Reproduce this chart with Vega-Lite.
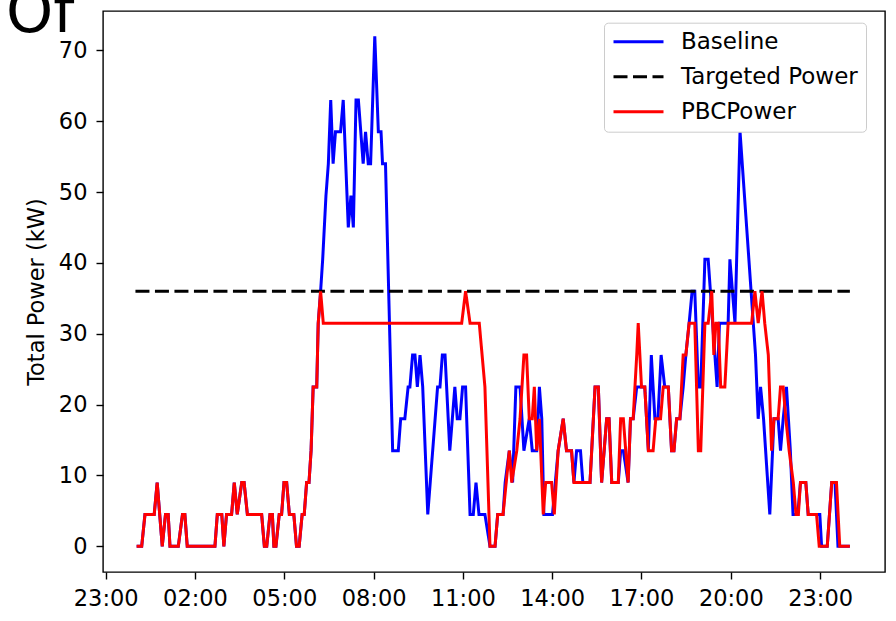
{
  "$schema": "https://vega.github.io/schema/vega-lite/v6.json",
  "width": 782,
  "height": 561,
  "autosize": "none",
  "padding": {"left": 103, "top": 11, "right": 11, "bottom": 49},
  "background": "white",
  "title": {"text": "Of", "anchor": "start", "frame": "group", "orient": "top", "fontSize": 60, "font": "DejaVu Sans", "fontWeight": "normal", "color": "#000", "baseline": "alphabetic", "offset": -81, "dx": -97},
  "config": {
    "view": {"stroke": "#000", "strokeWidth": 1.4},
    "axis": {"grid": false, "domain": false, "tickColor": "#000", "tickWidth": 1.4, "tickSize": 7, "labelColor": "#000", "labelFont": "DejaVu Sans", "labelFontSize": 22.5, "titleFont": "DejaVu Sans", "titleFontWeight": "normal", "titleColor": "#000", "titleFontSize": 22.5},
    "legend": {"orient": "none", "legendX": 501, "legendY": 11.7, "symbolType": "stroke", "symbolSize": 2500, "symbolStrokeWidth": 3, "clipHeight": 22, "rowPadding": 12, "labelFontSize": 23, "labelFont": "DejaVu Sans", "labelColor": "#000", "labelOffset": 16, "padding": 8, "fillColor": "white", "strokeColor": "#cccccc", "cornerRadius": 4, "labelLimit": 400}
  },
  "data": {"values": [
    {"s":"Baseline","h":0.04,"v":0},{"s":"Baseline","h":0.21,"v":0},{"s":"Baseline","h":0.32,"v":4.5},{"s":"Baseline","h":0.63,"v":4.5},{"s":"Baseline","h":0.73,"v":9},{"s":"Baseline","h":0.90,"v":0},{"s":"Baseline","h":1.01,"v":4.5},{"s":"Baseline","h":1.10,"v":4.5},{"s":"Baseline","h":1.16,"v":0},{"s":"Baseline","h":1.44,"v":0},{"s":"Baseline","h":1.58,"v":4.5},{"s":"Baseline","h":1.66,"v":4.5},{"s":"Baseline","h":1.74,"v":0},{"s":"Baseline","h":2.67,"v":0},{"s":"Baseline","h":2.75,"v":4.5},{"s":"Baseline","h":2.90,"v":4.5},{"s":"Baseline","h":2.97,"v":0},{"s":"Baseline","h":3.06,"v":4.5},{"s":"Baseline","h":3.23,"v":4.5},{"s":"Baseline","h":3.32,"v":9},{"s":"Baseline","h":3.42,"v":4.5},{"s":"Baseline","h":3.57,"v":9},{"s":"Baseline","h":3.65,"v":9},{"s":"Baseline","h":3.76,"v":4.5},{"s":"Baseline","h":4.24,"v":4.5},{"s":"Baseline","h":4.33,"v":0},{"s":"Baseline","h":4.41,"v":0},{"s":"Baseline","h":4.52,"v":4.5},{"s":"Baseline","h":4.60,"v":4.5},{"s":"Baseline","h":4.65,"v":0},{"s":"Baseline","h":4.72,"v":0},{"s":"Baseline","h":4.83,"v":4.5},{"s":"Baseline","h":4.91,"v":4.5},{"s":"Baseline","h":4.99,"v":9},{"s":"Baseline","h":5.08,"v":9},{"s":"Baseline","h":5.17,"v":4.5},{"s":"Baseline","h":5.32,"v":4.5},{"s":"Baseline","h":5.41,"v":0},{"s":"Baseline","h":5.50,"v":0},{"s":"Baseline","h":5.60,"v":4.5},{"s":"Baseline","h":5.67,"v":4.5},{"s":"Baseline","h":5.75,"v":9},{"s":"Baseline","h":5.83,"v":9},{"s":"Baseline","h":5.90,"v":13.5},{"s":"Baseline","h":5.97,"v":22.5},{"s":"Baseline","h":6.09,"v":22.5},{"s":"Baseline","h":6.14,"v":31.5},{"s":"Baseline","h":6.22,"v":36},
    {"s":"Baseline","h":6.29,"v":40.5},{"s":"Baseline","h":6.40,"v":49.5},{"s":"Baseline","h":6.48,"v":54},{"s":"Baseline","h":6.56,"v":63},{"s":"Baseline","h":6.64,"v":54},{"s":"Baseline","h":6.72,"v":58.5},{"s":"Baseline","h":6.89,"v":58.5},{"s":"Baseline","h":6.98,"v":63},{"s":"Baseline","h":7.15,"v":45},{"s":"Baseline","h":7.24,"v":49.5},{"s":"Baseline","h":7.32,"v":45},{"s":"Baseline","h":7.41,"v":63},{"s":"Baseline","h":7.49,"v":63},{"s":"Baseline","h":7.65,"v":54},{"s":"Baseline","h":7.73,"v":58.5},{"s":"Baseline","h":7.82,"v":54},{"s":"Baseline","h":7.90,"v":54},{"s":"Baseline","h":8.04,"v":72},{"s":"Baseline","h":8.16,"v":58.5},{"s":"Baseline","h":8.25,"v":58.5},{"s":"Baseline","h":8.30,"v":54},{"s":"Baseline","h":8.40,"v":54},{"s":"Baseline","h":8.64,"v":13.5},{"s":"Baseline","h":8.83,"v":13.5},{"s":"Baseline","h":8.91,"v":18},{"s":"Baseline","h":9.05,"v":18},{"s":"Baseline","h":9.16,"v":22.5},{"s":"Baseline","h":9.22,"v":22.5},{"s":"Baseline","h":9.31,"v":27},{"s":"Baseline","h":9.39,"v":27},{"s":"Baseline","h":9.47,"v":22.5},{"s":"Baseline","h":9.56,"v":27},{"s":"Baseline","h":9.65,"v":22.5},{"s":"Baseline","h":9.82,"v":4.5},{"s":"Baseline","h":10.15,"v":22.5},{"s":"Baseline","h":10.23,"v":22.5},{"s":"Baseline","h":10.31,"v":27},{"s":"Baseline","h":10.40,"v":27},{"s":"Baseline","h":10.56,"v":13.5},{"s":"Baseline","h":10.73,"v":22.5},{"s":"Baseline","h":10.81,"v":18},{"s":"Baseline","h":10.90,"v":18},{"s":"Baseline","h":10.99,"v":22.5},{"s":"Baseline","h":11.09,"v":22.5},{"s":"Baseline","h":11.24,"v":4.5},{"s":"Baseline","h":11.35,"v":4.5},{"s":"Baseline","h":11.44,"v":9},{"s":"Baseline","h":11.54,"v":4.5},{"s":"Baseline","h":11.74,"v":4.5},{"s":"Baseline","h":11.91,"v":0},{"s":"Baseline","h":12.08,"v":0},{"s":"Baseline","h":12.17,"v":4.5},{"s":"Baseline","h":12.35,"v":4.5},{"s":"Baseline","h":12.42,"v":9},{"s":"Baseline","h":12.56,"v":13.5},{"s":"Baseline","h":12.67,"v":9},{"s":"Baseline","h":12.78,"v":22.5},{"s":"Baseline","h":12.92,"v":22.5},{"s":"Baseline","h":13.05,"v":13.5},{"s":"Baseline","h":13.23,"v":18},{"s":"Baseline","h":13.33,"v":13.5},{"s":"Baseline","h":13.48,"v":13.5},{"s":"Baseline","h":13.57,"v":22.5},{"s":"Baseline","h":13.65,"v":18},{"s":"Baseline","h":13.72,"v":4.5},{"s":"Baseline","h":14.01,"v":4.5},{"s":"Baseline","h":14.20,"v":13.5},{"s":"Baseline","h":14.37,"v":18},{"s":"Baseline","h":14.48,"v":13.5},{"s":"Baseline","h":14.65,"v":13.5},{"s":"Baseline","h":14.73,"v":9},{"s":"Baseline","h":14.82,"v":13.5},{"s":"Baseline","h":14.95,"v":13.5},{"s":"Baseline","h":15.03,"v":9},{"s":"Baseline","h":15.27,"v":9},{"s":"Baseline","h":15.44,"v":22.5},{"s":"Baseline","h":15.55,"v":22.5},{"s":"Baseline","h":15.66,"v":9},{"s":"Baseline","h":15.83,"v":18},{"s":"Baseline","h":15.91,"v":18},{"s":"Baseline","h":16.00,"v":9},{"s":"Baseline","h":16.22,"v":9},{"s":"Baseline","h":16.30,"v":13.5},{"s":"Baseline","h":16.39,"v":13.5},{"s":"Baseline","h":16.55,"v":9},{"s":"Baseline","h":16.63,"v":18},{"s":"Baseline","h":16.72,"v":18},{"s":"Baseline","h":16.84,"v":22.5},{"s":"Baseline","h":17.11,"v":22.5},{"s":"Baseline","h":17.23,"v":13.5},{"s":"Baseline","h":17.33,"v":27},{"s":"Baseline","h":17.45,"v":18},{"s":"Baseline","h":17.55,"v":18},{"s":"Baseline","h":17.66,"v":27},{"s":"Baseline","h":17.78,"v":22.5},{"s":"Baseline","h":17.90,"v":22.5},{"s":"Baseline","h":18.01,"v":13.5},{"s":"Baseline","h":18.09,"v":13.5},{"s":"Baseline","h":18.18,"v":18},{"s":"Baseline","h":18.29,"v":18},{"s":"Baseline","h":18.40,"v":22.5},{"s":"Baseline","h":18.49,"v":27},{"s":"Baseline","h":18.60,"v":31.5},{"s":"Baseline","h":18.70,"v":36},{"s":"Baseline","h":18.79,"v":36},{"s":"Baseline","h":18.91,"v":22.5},{"s":"Baseline","h":18.99,"v":22.5},{"s":"Baseline","h":19.13,"v":40.5},{"s":"Baseline","h":19.24,"v":40.5},{"s":"Baseline","h":19.54,"v":22.5},{"s":"Baseline","h":19.62,"v":31.5},{"s":"Baseline","h":19.91,"v":31.5},{"s":"Baseline","h":19.97,"v":40.5},{"s":"Baseline","h":20.14,"v":31.5},{"s":"Baseline","h":20.31,"v":58.5},{"s":"Baseline","h":20.83,"v":27},{"s":"Baseline","h":20.92,"v":18},{"s":"Baseline","h":21.00,"v":22.5},{"s":"Baseline","h":21.10,"v":18},{"s":"Baseline","h":21.31,"v":4.5},{"s":"Baseline","h":21.45,"v":18},{"s":"Baseline","h":21.59,"v":18},{"s":"Baseline","h":21.67,"v":13.5},{"s":"Baseline","h":21.76,"v":18},{"s":"Baseline","h":21.87,"v":22.5},{"s":"Baseline","h":22.00,"v":13.5},{"s":"Baseline","h":22.09,"v":4.5},{"s":"Baseline","h":22.25,"v":4.5},{"s":"Baseline","h":22.34,"v":9},{"s":"Baseline","h":22.52,"v":9},{"s":"Baseline","h":22.60,"v":4.5},{"s":"Baseline","h":22.99,"v":4.5},{"s":"Baseline","h":23.05,"v":0},{"s":"Baseline","h":23.24,"v":0},{"s":"Baseline","h":23.39,"v":9},{"s":"Baseline","h":23.50,"v":9},{"s":"Baseline","h":23.60,"v":0},{"s":"Baseline","h":24.0,"v":0},
    {"s":"Targeted Power","h":0,"v":36},{"s":"Targeted Power","h":24,"v":36},
    {"s":"PBCPower","h":0.04,"v":0},{"s":"PBCPower","h":0.21,"v":0},{"s":"PBCPower","h":0.32,"v":4.5},{"s":"PBCPower","h":0.63,"v":4.5},{"s":"PBCPower","h":0.73,"v":9},{"s":"PBCPower","h":0.90,"v":0},{"s":"PBCPower","h":1.01,"v":4.5},{"s":"PBCPower","h":1.10,"v":4.5},{"s":"PBCPower","h":1.16,"v":0},{"s":"PBCPower","h":1.44,"v":0},{"s":"PBCPower","h":1.58,"v":4.5},{"s":"PBCPower","h":1.66,"v":4.5},{"s":"PBCPower","h":1.74,"v":0},{"s":"PBCPower","h":2.67,"v":0},{"s":"PBCPower","h":2.75,"v":4.5},{"s":"PBCPower","h":2.90,"v":4.5},{"s":"PBCPower","h":2.97,"v":0},{"s":"PBCPower","h":3.06,"v":4.5},{"s":"PBCPower","h":3.23,"v":4.5},{"s":"PBCPower","h":3.32,"v":9},{"s":"PBCPower","h":3.42,"v":4.5},{"s":"PBCPower","h":3.57,"v":9},{"s":"PBCPower","h":3.65,"v":9},{"s":"PBCPower","h":3.76,"v":4.5},{"s":"PBCPower","h":4.24,"v":4.5},{"s":"PBCPower","h":4.33,"v":0},{"s":"PBCPower","h":4.41,"v":0},{"s":"PBCPower","h":4.52,"v":4.5},{"s":"PBCPower","h":4.60,"v":4.5},{"s":"PBCPower","h":4.65,"v":0},{"s":"PBCPower","h":4.72,"v":0},{"s":"PBCPower","h":4.83,"v":4.5},{"s":"PBCPower","h":4.91,"v":4.5},{"s":"PBCPower","h":4.99,"v":9},{"s":"PBCPower","h":5.08,"v":9},{"s":"PBCPower","h":5.17,"v":4.5},{"s":"PBCPower","h":5.32,"v":4.5},{"s":"PBCPower","h":5.41,"v":0},{"s":"PBCPower","h":5.50,"v":0},{"s":"PBCPower","h":5.60,"v":4.5},{"s":"PBCPower","h":5.67,"v":4.5},{"s":"PBCPower","h":5.75,"v":9},{"s":"PBCPower","h":5.83,"v":9},{"s":"PBCPower","h":5.90,"v":13.5},{"s":"PBCPower","h":5.97,"v":22.5},{"s":"PBCPower","h":6.09,"v":22.5},{"s":"PBCPower","h":6.14,"v":31.5},{"s":"PBCPower","h":6.22,"v":36},
    {"s":"PBCPower","h":6.31,"v":31.5},{"s":"PBCPower","h":10.96,"v":31.5},{"s":"PBCPower","h":11.09,"v":36},{"s":"PBCPower","h":11.24,"v":31.5},{"s":"PBCPower","h":11.55,"v":31.5},{"s":"PBCPower","h":11.74,"v":22.5},{"s":"PBCPower","h":11.91,"v":0},{"s":"PBCPower","h":12.08,"v":0},{"s":"PBCPower","h":12.17,"v":4.5},{"s":"PBCPower","h":12.35,"v":4.5},{"s":"PBCPower","h":12.56,"v":13.5},{"s":"PBCPower","h":12.64,"v":9},{"s":"PBCPower","h":12.81,"v":13.5},{"s":"PBCPower","h":12.92,"v":18},{"s":"PBCPower","h":13.05,"v":27},{"s":"PBCPower","h":13.14,"v":27},{"s":"PBCPower","h":13.23,"v":18},{"s":"PBCPower","h":13.33,"v":18},{"s":"PBCPower","h":13.40,"v":22.5},{"s":"PBCPower","h":13.48,"v":13.5},{"s":"PBCPower","h":13.57,"v":18},{"s":"PBCPower","h":13.70,"v":4.5},{"s":"PBCPower","h":13.78,"v":9},{"s":"PBCPower","h":13.98,"v":9},{"s":"PBCPower","h":14.07,"v":4.5},{"s":"PBCPower","h":14.20,"v":13.5},{"s":"PBCPower","h":14.37,"v":18},{"s":"PBCPower","h":14.48,"v":13.5},{"s":"PBCPower","h":14.65,"v":13.5},{"s":"PBCPower","h":14.73,"v":9},{"s":"PBCPower","h":15.27,"v":9},{"s":"PBCPower","h":15.44,"v":22.5},{"s":"PBCPower","h":15.55,"v":22.5},{"s":"PBCPower","h":15.66,"v":9},{"s":"PBCPower","h":15.83,"v":18},{"s":"PBCPower","h":15.91,"v":18},{"s":"PBCPower","h":16.00,"v":9},{"s":"PBCPower","h":16.22,"v":9},{"s":"PBCPower","h":16.30,"v":18},{"s":"PBCPower","h":16.39,"v":18},{"s":"PBCPower","h":16.55,"v":9},{"s":"PBCPower","h":16.63,"v":18},{"s":"PBCPower","h":16.72,"v":18},{"s":"PBCPower","h":16.84,"v":27},{"s":"PBCPower","h":16.89,"v":31.5},{"s":"PBCPower","h":17.00,"v":22.5},{"s":"PBCPower","h":17.11,"v":22.5},{"s":"PBCPower","h":17.23,"v":13.5},{"s":"PBCPower","h":17.39,"v":13.5},{"s":"PBCPower","h":17.48,"v":18},{"s":"PBCPower","h":17.64,"v":18},{"s":"PBCPower","h":17.73,"v":22.5},{"s":"PBCPower","h":17.90,"v":22.5},{"s":"PBCPower","h":18.01,"v":13.5},{"s":"PBCPower","h":18.09,"v":13.5},{"s":"PBCPower","h":18.18,"v":18},{"s":"PBCPower","h":18.29,"v":18},{"s":"PBCPower","h":18.40,"v":27},{"s":"PBCPower","h":18.49,"v":27},{"s":"PBCPower","h":18.60,"v":31.5},{"s":"PBCPower","h":18.79,"v":31.5},{"s":"PBCPower","h":18.91,"v":13.5},{"s":"PBCPower","h":18.99,"v":13.5},{"s":"PBCPower","h":19.13,"v":31.5},{"s":"PBCPower","h":19.24,"v":31.5},{"s":"PBCPower","h":19.36,"v":36},{"s":"PBCPower","h":19.43,"v":27},{"s":"PBCPower","h":19.50,"v":31.5},{"s":"PBCPower","h":19.58,"v":31.5},{"s":"PBCPower","h":19.66,"v":22.5},{"s":"PBCPower","h":19.80,"v":22.5},{"s":"PBCPower","h":19.91,"v":31.5},{"s":"PBCPower","h":20.70,"v":31.5},{"s":"PBCPower","h":20.81,"v":36},{"s":"PBCPower","h":20.92,"v":31.5},{"s":"PBCPower","h":21.05,"v":36},{"s":"PBCPower","h":21.14,"v":31.5},{"s":"PBCPower","h":21.26,"v":27},{"s":"PBCPower","h":21.37,"v":13.5},{"s":"PBCPower","h":21.45,"v":18},{"s":"PBCPower","h":21.59,"v":18},{"s":"PBCPower","h":21.67,"v":22.5},{"s":"PBCPower","h":21.76,"v":22.5},{"s":"PBCPower","h":21.85,"v":18},{"s":"PBCPower","h":21.96,"v":13.5},{"s":"PBCPower","h":22.10,"v":9},{"s":"PBCPower","h":22.19,"v":4.5},{"s":"PBCPower","h":22.27,"v":4.5},{"s":"PBCPower","h":22.34,"v":9},{"s":"PBCPower","h":22.52,"v":9},{"s":"PBCPower","h":22.60,"v":4.5},{"s":"PBCPower","h":22.88,"v":4.5},{"s":"PBCPower","h":22.97,"v":0},{"s":"PBCPower","h":23.24,"v":0},{"s":"PBCPower","h":23.39,"v":9},{"s":"PBCPower","h":23.55,"v":9},{"s":"PBCPower","h":23.66,"v":0},{"s":"PBCPower","h":24.0,"v":0}
  ]},
  "encoding": {
    "x": {"field": "h", "type": "quantitative", "scale": {"domain": [-1.09, 25.18], "nice": false, "zero": false}, "axis": {"title": null, "values": [-1, 2, 5, 8, 11, 14, 17, 20, 23], "labelExpr": "datum.value == -1 ? '23:00' : (datum.value < 10 ? '0' : '') + datum.value + ':00'", "labelPadding": 8}},
    "y": {"field": "v", "type": "quantitative", "scale": {"domain": [-3.63, 75.56], "nice": false, "zero": false}, "axis": {"title": "Total Power (kW)", "values": [0, 10, 20, 30, 40, 50, 60, 70], "labelPadding": 9, "titlePadding": 10}},
    "color": {"field": "s", "type": "nominal", "title": null, "scale": {"domain": ["Baseline", "Targeted Power", "PBCPower"], "range": ["#0000ff", "#000000", "#ff0000"]}},
    "strokeDash": {"field": "s", "type": "nominal", "title": null, "scale": {"domain": ["Baseline", "Targeted Power", "PBCPower"], "range": [[1, 0], [14, 5.5], [1, 0]]}}
  },
  "layer": [
    {"transform": [{"filter": "datum.s == 'Baseline'"}], "mark": {"type": "line", "strokeWidth": 3}},
    {"transform": [{"filter": "datum.s == 'Targeted Power'"}], "mark": {"type": "line", "strokeWidth": 3}},
    {"transform": [{"filter": "datum.s == 'PBCPower'"}], "mark": {"type": "line", "strokeWidth": 3}}
  ]
}
